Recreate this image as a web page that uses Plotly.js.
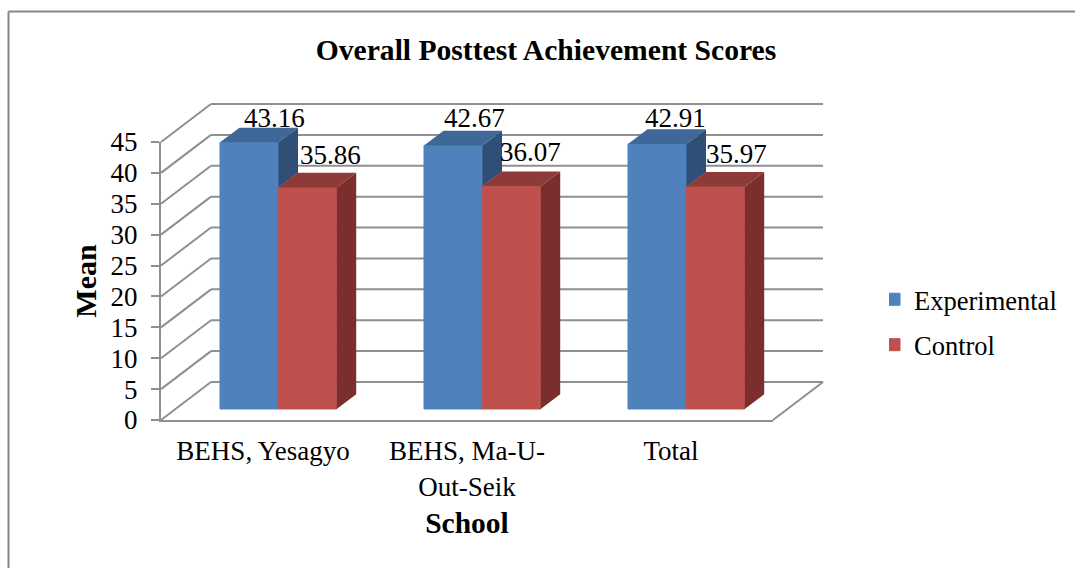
<!DOCTYPE html>
<html>
<head>
<meta charset="utf-8">
<script src="https://cdn.plot.ly/plotly-3.0.1.min.js"></script>
<style>html,body{margin:0;padding:0;background:#fff;overflow:hidden}</style>
</head>
<body>
<div id="chart" style="width:1075px;height:568px"></div>
<script>
const schools = ['BEHS, Yesagyo', 'BEHS, Ma-U-<br>Out-Seik', 'Total'];
const experimental = [43.16, 42.67, 42.91];
const control = [35.86, 36.07, 35.97];
const yTicks = [0, 5, 10, 15, 20, 25, 30, 35, 40, 45];

const W = 1075, H = 568;
const m = {l: 161, r: 302, t: 120, b: 148};
const plotW = W - m.l - m.r, plotH = H - m.t - m.b;
const frontH = 278;                           // height of the 0-45 front axis
const pxX = plotW / 3, pxY = frontH / 45;     // px per axis unit
const fontFamily = '"Liberation Serif","Times New Roman",serif';
const gray = '#8f8f8f';

const wallDx = 50 / pxX, wallDy = 38 / pxY;   // perspective depth of chart box
const barDx = 19.5 / pxX, barDy = 14.7 / pxY; // perspective depth of bars
const lift = 11 / pxY;                        // bars stand in middle of floor
const barW = 58.5 / pxX;
const offExp = -43 / pxX, offCtl = 15.2 / pxX;
const centers = schools.map((_, i) => i + 0.5);

function polys(values, offset, kind, limit) {
  const xs = [], ys = [];
  values.forEach((v, i) => {
    const x0 = centers[i] + offset, x1 = x0 + barW, top = v + lift;
    let px, py;
    if (kind === 'top') {
      px = [x0, x1, x1 + barDx, x0 + barDx, x0];
      py = [top, top, top + barDy, top + barDy, top];
    } else {
      const low = (limit ? limit[i] : 0) + lift;
      px = [x1, x1 + barDx, x1 + barDx, x1, x1];
      py = [top, top + barDy, low + barDy, low, top];
    }
    xs.push(...px, null); ys.push(...py, null);
  });
  return {x: xs, y: ys};
}
function face(p, color) {
  return {type: 'scatter', mode: 'none', fill: 'toself', fillcolor: color, xaxis: 'x', yaxis: 'y2',
    x: p.x, y: p.y, showlegend: false, hoverinfo: 'skip'};
}
function front(name, values, offset, color) {
  return {type: 'bar', name: name, x: centers, y: values, base: lift, offset: offset,
    width: barW, legendgroup: name, cliponaxis: false,
    marker: {color: color, line: {color: color, width: 1}}};
}

const traces = [
  front('Experimental', experimental, offExp, '#4F81BD'),
  front('Control', control, offCtl, '#C0504D'),
  face(polys(experimental, offExp, 'top'), '#3F6797'),
  face(polys(experimental, offExp, 'side', control), '#2F4F77'),
  face(polys(control, offCtl, 'top'), '#8E3A38'),
  face(polys(control, offCtl, 'side'), '#7A2F2E')
];

// Wall and floor lines, from the axis scale
const lx = x => x / 3, ly = y => y * pxY / plotH;
const shapes = [];
const seg = (x0, y0, x1, y1) => shapes.push({type: 'line', xref: 'paper', yref: 'paper', layer: 'below',
  x0: lx(x0), y0: ly(y0), x1: lx(x1), y1: ly(y1), line: {color: gray, width: 2}});
yTicks.forEach(v => {
  seg(0, v, wallDx, v + wallDy);
  seg(wallDx, v + wallDy, 3 + wallDx, v + wallDy);
});
seg(3, 0, 3 + wallDx, wallDy);
// outer frame of the picture
const fx = px => (px - m.l) / plotW, fy = py => (H - m.b - py) / plotH;
[[8.5, 11.5, W, 11.5], [8.5, 11.5, 8.5, H]].forEach(f => shapes.push({type: 'line', xref: 'paper', yref: 'paper',
  x0: fx(f[0]), y0: fy(f[1]), x1: fx(f[2]), y1: fy(f[3]), line: {color: '#868686', width: 2}}));

// Data labels
const expShift = [[25, 24], [21, 27], [18, 26]];
const ctlShift = [[23, 32], [19, 34], [21, 33]];
function labels(values, offset, shifts) {
  return values.map((v, i) => ({x: centers[i] + offset + barW / 2, y: v + lift, xref: 'x', yref: 'y', text: v.toFixed(2),
    xshift: shifts[i][0], yshift: shifts[i][1], showarrow: false, yanchor: 'middle', xanchor: 'center',
    font: {family: fontFamily, size: 27, color: '#000'}}));
}

const layout = {
  width: W, height: H, margin: m, paper_bgcolor: '#fff', plot_bgcolor: 'rgba(0,0,0,0)',
  barmode: 'overlay', font: {family: fontFamily, color: '#000'},
  title: {text: '<b>Overall Posttest Achievement Scores</b>', font: {family: fontFamily, size: 29.6, color: '#000'},
    xref: 'paper', x: fx(546), xanchor: 'center', yref: 'container', y: 1 - 50 / H, yanchor: 'middle'},
  xaxis: {range: [0, 3], tickmode: 'array', tickvals: centers, ticktext: schools, ticks: '', showgrid: false, zeroline: false,
    showline: true, linecolor: gray, linewidth: 2, ticklabelstandoff: 6, tickangle: 0,
    tickfont: {family: fontFamily, size: 27, color: '#000'},
    title: {text: '<b>School</b>', font: {family: fontFamily, size: 29.5, color: '#000'}, standoff: 12}},
  yaxis: {domain: [0, frontH / plotH], range: [0, 45], tickmode: 'array', tickvals: yTicks, ticks: 'outside', ticklen: 8, tickwidth: 2, tickcolor: gray,
    showgrid: false, zeroline: false, showline: true, linecolor: gray, linewidth: 2, ticklabelstandoff: 8,
    tickfont: {family: fontFamily, size: 27, color: '#000'},
    title: {text: '<b>Mean</b>', font: {family: fontFamily, size: 30, color: '#000'}, standoff: 5}},
  yaxis2: {domain: [0, 1], range: [0, plotH / pxY], visible: false, anchor: 'x'},
  legend: {x: fx(889), xanchor: 'left', y: fy(322), yanchor: 'middle', traceorder: 'grouped', tracegroupgap: 8,
    indentation: -15, font: {family: fontFamily, size: 26.5, color: '#000'}, bgcolor: 'rgba(0,0,0,0)'},
  shapes: shapes,
  annotations: labels(experimental, offExp, expShift).concat(labels(control, offCtl, ctlShift))
};
Plotly.newPlot('chart', traces, layout, {displayModeBar: false, responsive: false});
</script>
</body>
</html>
